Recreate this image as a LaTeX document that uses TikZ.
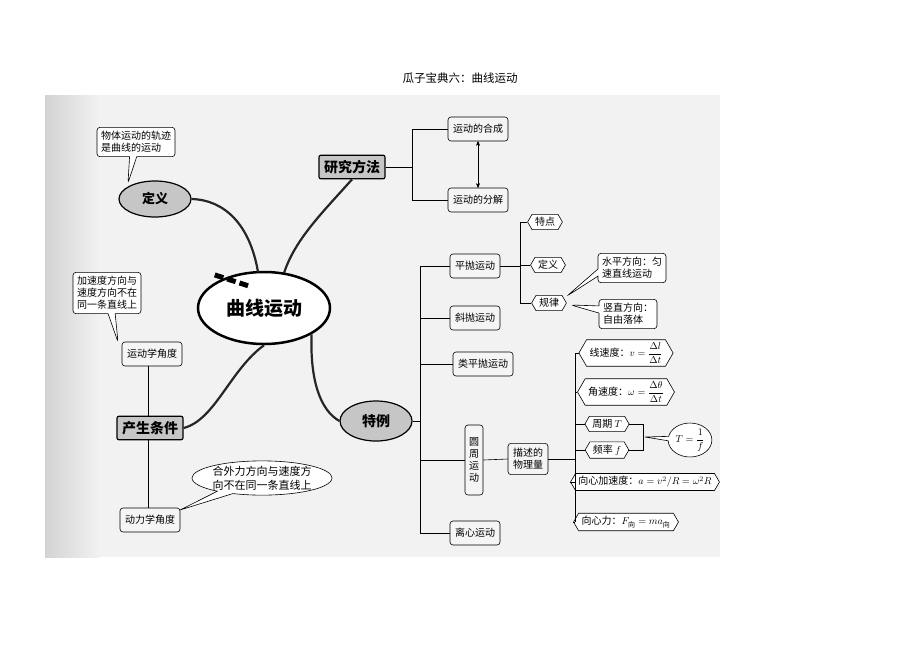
\documentclass[tikz,border=0pt]{standalone}
\usepackage{amsmath}
\usepackage{fontspec}
\newfontfamily\cjk{Noto Sans CJK SC}
\usetikzlibrary{shapes.geometric,shapes.symbols,shapes.misc,shapes.callouts,arrows}
\begin{document}
\begin{tikzpicture}[x=1pt,y=-1pt,font=\cjk\fontsize{10}{12}\selectfont,semithick]
\tikzstyle{leaf}=[draw,rounded corners=3pt,fill=gray!8,inner sep=5pt,minimum height=24]
\tikzstyle{main}=[draw,very thick,fill=gray!45,inner sep=5pt,font=\cjk\bfseries\fontsize{14}{16}\selectfont]
\tikzstyle{hexa}=[draw,signal,signal to=west and east,signal pointer angle=120,fill=white,inner sep=3pt]
\tikzstyle{note}=[draw,rectangle callout,rounded corners=3pt,fill=white,align=left,inner sep=4pt]
\tikzstyle{limb}=[line width=2.2pt,draw=black!85]

\useasboundingbox (0,0) rectangle (920,651);
\fill[gray!10] (45,95) rectangle (720,557);
\fill[left color=gray!35,right color=gray!10] (45,95) rectangle (100,557);
\node (title) at (460,78) {\fontsize{11.5}{13}\selectfont 瓜子宝典六：曲线运动};

% centre
\node[draw,ellipse,line width=2.5pt,fill=white,minimum width=132,minimum height=72,
  font=\cjk\bfseries\fontsize{19}{21}\selectfont] (core) at (264,308) {曲线运动};
\foreach \a in {0,13,26}
  \fill[rotate around={-18:(232,280)}] (214+\a,278) rectangle ++(9,5);

% definition
\node[draw,ellipse,very thick,fill=gray!45,minimum width=72,minimum height=36,
  font=\cjk\bfseries\fontsize{13}{15}\selectfont] (def) at (155,199) {定义};
\node[note,callout absolute pointer={(128,183)}] (defn) at (136,142) {物体运动的轨迹\\是曲线的运动};

% method
\node[main,rounded corners=2pt] (meth) at (352,167) {研究方法};
\node[leaf] (comp) at (478,129) {运动的合成};
\node[leaf] (deco) at (478,200) {运动的分解};
\draw (meth.east) -- (412,167) coordinate (mj);
\draw (412,129) -- (comp.west) (412,200) -- (deco.west) (412,129) -- (412,200);
\draw[<->,>=stealth'] (comp.south) -- (deco.north);

% cases
\node[draw,ellipse,very thick,fill=gray!45,minimum width=72,minimum height=40,
  font=\cjk\bfseries\fontsize{14}{16}\selectfont] (case) at (376,421) {特例};
\node[leaf] (flat) at (475,266) {平抛运动};
\node[leaf] (obli) at (475,318) {斜抛运动};
\node[leaf] (like) at (483,364) {类平抛运动};
\node[leaf,align=center,minimum height=70,inner sep=4pt] (circ) at (474,460) {圆\\周\\运\\动};
\node[leaf] (cent) at (475,533) {离心运动};
\draw (case.east) -- (420,421);
\draw (420,266) -- (420,533);
\foreach \n in {flat,obli,like,circ,cent}
  \draw (420,0 |- \n.west) -- (\n.west);

\node[hexa] (feat) at (545,222) {特点};
\node[hexa] (sdef) at (548,265) {定义};
\node[hexa] (rule) at (549,303) {规律};
\draw (flat.east) -- (520,266);
\draw (520,222) -- (520,303);
\foreach \n in {feat,sdef,rule}
  \draw (520,0 |- \n.west) -- (\n.west);
\node[note,callout absolute pointer={(567,296)}] (hori) at (632,268) {水平方向：匀\\速直线运动};
\node[note,callout absolute pointer={(571,305)}] (vert) at (628,314) {竖直方向：\\自由落体};

\node[leaf,align=center] (qty) at (528,459) {描述的\\物理量};
\draw (circ.east) -- (qty.west);
\node[hexa] (lin) at (626,353) {线速度：$v=\dfrac{\Delta l}{\Delta t}$};
\node[hexa] (ang) at (626,392) {角速度：$\omega=\dfrac{\Delta\theta}{\Delta t}$};
\node[hexa] (per) at (607,424) {周期 $T$};
\node[hexa] (frq) at (607,450) {频率 $f$};
\node[hexa] (acc) at (645,482) {向心加速度：$a=v^2/R=\omega^2R$};
\node[hexa] (frc) at (626,522) {向心力：$F_{\text{向}}=ma_{\text{向}}$};
\draw (qty.east) -- (575,459);
\draw (575,353) -- (575,522);
\foreach \n in {lin,ang,per,frq,acc,frc}
  \draw (575,0 |- \n.west) -- (\n.west);
\draw (per.east) -- (643,424) -- (643,450) -- (frq.east);
\node[draw,ellipse callout,fill=white,callout absolute pointer={(645,437)},inner sep=1pt]
  (tf) at (690,440) {$T=\dfrac{1}{f}$};

% conditions
\node[main,rounded corners=2pt] (cond) at (150,428) {产生条件};
\node[leaf] (kin) at (152,354) {运动学角度};
\node[leaf] (dyn) at (150,520) {动力学角度};
\draw (148,0 |- kin.south) -- (148,0 |- cond.north);
\draw (148,0 |- cond.south) -- (148,0 |- dyn.north);
\node[note,callout absolute pointer={(118,342)}] (kinn) at (107,293) {加速度方向与\\速度方向不在\\同一条直线上};
\node[draw,ellipse callout,fill=white,align=left,callout absolute pointer={(180,510)},inner sep=0pt,
  font=\cjk\fontsize{11}{14}\selectfont] (dynn) at (262,478) {合外力方向与速度方\\向不在同一条直线上};

% limbs
\draw[limb] (def.east) .. controls (225,200) and (250,225) .. (258,272);
\draw[limb] (meth.south) .. controls (320,215) and (295,240) .. (284,273);
\draw[limb] (core.south east) .. controls (310,380) and (320,410) .. (case.west);
\draw[limb] (core.south) .. controls (230,370) and (215,420) .. (cond.east);
\end{tikzpicture}
\end{document}
